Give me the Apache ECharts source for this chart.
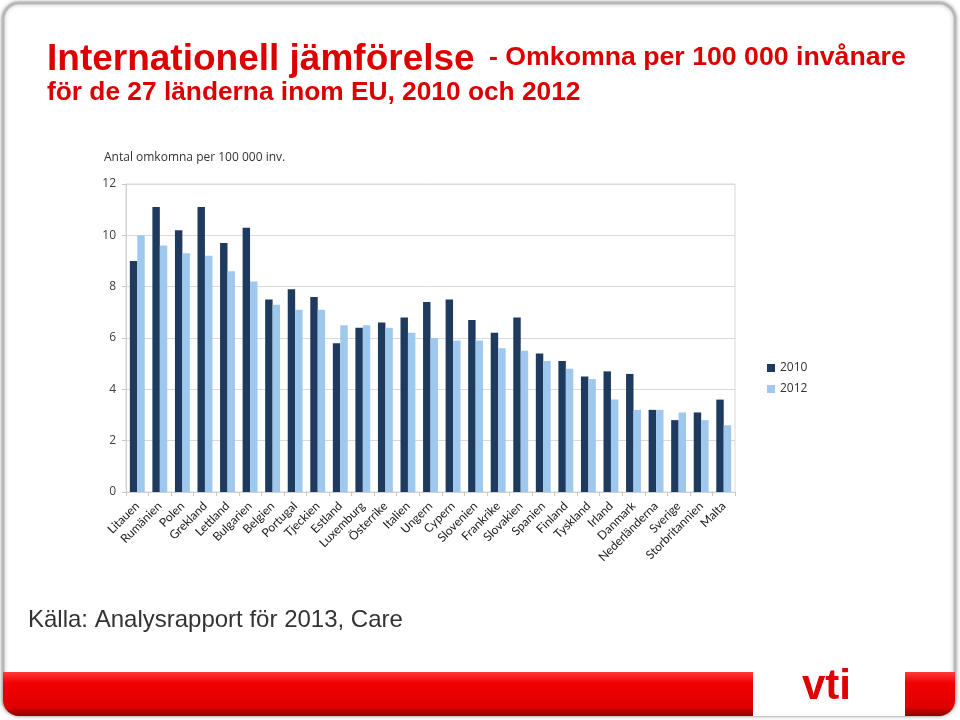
<!DOCTYPE html>
<html>
<head>
<meta charset="utf-8">
<script src="https://cdn.jsdelivr.net/npm/echarts@6/dist/echarts.min.js"></script>
<style>html,body{margin:0;padding:0;background:#fff;}#c{width:960px;height:720px;}</style>
</head>
<body>
<div id="c"></div>
<script>
const countries = ['Litauen','Rumänien','Polen','Grekland','Lettland','Bulgarien','Belgien','Portugal','Tjeckien','Estland','Luxemburg','Österrike','Italien','Ungern','Cypern','Slovenien','Frankrike','Slovakien','Spanien','Finland','Tyskland','Irland','Danmark','Nederländerna','Sverige','Storbritannien','Malta'];
const values2010 = [9.0,11.1,10.2,11.1,9.7,10.3,7.5,7.9,7.6,5.8,6.4,6.6,6.8,7.4,7.5,6.7,6.2,6.8,5.4,5.1,4.5,4.7,4.6,3.2,2.8,3.1,3.6];
const values2012 = [10.0,9.6,9.3,9.2,8.6,8.2,7.3,7.1,7.1,6.5,6.5,6.4,6.2,6.0,5.9,5.9,5.6,5.5,5.1,4.8,4.4,3.6,3.2,3.2,3.1,2.8,2.6];
const seriesNames = ['2010','2012'];

const chart = echarts.init(document.getElementById('c'));
chart.setOption({
  backgroundColor: '#fff',
  animation: false,
  textStyle: { fontFamily: 'Open Sans' },
  grid: { left: 126, right: 225, top: 184, bottom: 228, show: true, borderColor: '#d9d9d9', borderWidth: 1 },
  legend: {
    orient: 'vertical', left: 762, top: 357, itemWidth: 8, itemHeight: 8, itemGap: 9,
    icon: 'rect',
    textStyle: { fontFamily: 'Open Sans', fontSize: 12, color: '#333' },
    data: seriesNames
  },
  xAxis: {
    type: 'category', data: countries,
    axisLine: { lineStyle: { color: '#d0d0d0' } },
    axisTick: { show: true, length: 4, lineStyle: { color: '#c8c8c8' } },
    axisLabel: { rotate: 45, interval: 0, fontSize: 12, color: '#1a1a1a', margin: 12, fontFamily: 'Lato' }
  },
  yAxis: {
    type: 'value', min: 0, max: 12, interval: 2,
    name: 'Antal omkomna per 100 000 inv.', nameLocation: 'end', nameGap: 14,
    nameTextStyle: { align: 'left', padding: [0, 0, 6, -22], fontSize: 12, color: '#333', fontFamily: 'Open Sans' },
    axisLine: { show: true, lineStyle: { color: '#d0d0d0' } },
    axisTick: { show: true, length: 4, lineStyle: { color: '#c8c8c8' } },
    axisLabel: { fontSize: 12, color: '#404040', margin: 10, fontFamily: 'Open Sans' },
    splitLine: { lineStyle: { color: '#d9d9d9' } }
  },
  series: [
    { name: seriesNames[0], type: 'bar', data: values2010, barGap: '0%', barCategoryGap: '34%', itemStyle: { color: '#1f3a5f' } },
    { name: seriesNames[1], type: 'bar', data: values2012, itemStyle: { color: '#9fc8ee' } }
  ],
  graphic: [
    { type: 'rect', z: -10, shape: { x: 3, y: 3, width: 952, height: 712, r: 16 }, style: { fill: '#fff', stroke: '#b8b8b8', lineWidth: 3, shadowBlur: 4, shadowColor: 'rgba(0,0,0,0.25)' } },
    { type: 'rect', z: 5, shape: { x: 3, y: 672, width: 952, height: 44, r: [0, 0, 16, 16] },
      style: { fill: new echarts.graphic.LinearGradient(0, 0, 0, 1, [
        { offset: 0, color: '#ff3a3a' }, { offset: 0.25, color: '#f20000' }, { offset: 0.8, color: '#e00000' }, { offset: 1, color: '#8a0000' }]) } },
    { type: 'rect', z: 6, shape: { x: 753, y: 672, width: 152, height: 44 }, style: { fill: '#fff' } },
    { type: 'text', z: 7, left: 802, top: 666, style: { text: 'vti', font: 'bold 42px "Liberation Sans Narrow", "Liberation Sans", Arial', fill: '#e00000' } },
    { type: 'text', left: 47, top: 41, style: { text: 'Internationell jämförelse', font: 'bold 37px "Liberation Sans", Arial', fill: '#dd0000' } },
    { type: 'text', left: 489, top: 44, style: { text: '- Omkomna per 100 000 invånare', font: 'bold 26.7px "Liberation Sans", Arial', fill: '#dd0000' } },
    { type: 'text', left: 47, top: 80, style: { text: 'för de 27 länderna inom EU, 2010 och 2012', font: 'bold 26.3px "Liberation Sans", Arial', fill: '#dd0000' } },
    { type: 'text', left: 28, top: 608, style: { text: 'Källa: Analysrapport för 2013, Care', font: '24px "Liberation Sans", Arial', fill: '#333' } }
  ]
});
</script>
</body>
</html>
